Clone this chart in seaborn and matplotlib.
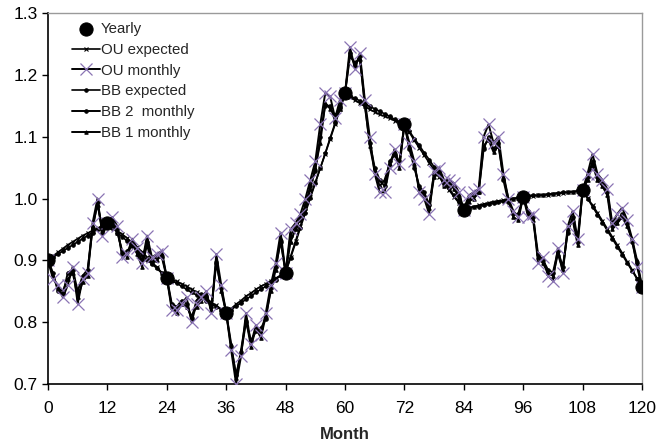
import numpy as np
import pandas as pd
import seaborn as sns
import matplotlib
matplotlib.use("Agg")
import matplotlib.pyplot as plt

# ------------------------------------------------------------
# data
# ------------------------------------------------------------
months = list(range(0, 121))
year_months = list(range(0, 121, 12))

yearly = [0.900, 0.960, 0.872, 0.815, 0.880, 1.170, 1.120, 0.982, 1.003, 1.013, 0.857]

ou_expected = [
    0.900, 0.907, 0.913, 0.919, 0.925, 0.930, 0.935, 0.940, 0.944, 0.948, 0.952, 0.956,
    0.960, 0.955, 0.948, 0.942, 0.936, 0.928, 0.921, 0.914, 0.905, 0.897, 0.889, 0.880,
    0.872, 0.869, 0.866, 0.862, 0.858, 0.853, 0.849, 0.844, 0.838, 0.832, 0.827, 0.821,
    0.815, 0.822, 0.829, 0.835, 0.842, 0.847, 0.853, 0.858, 0.862, 0.867, 0.871, 0.876,
    0.880, 0.906, 0.931, 0.956, 0.980, 1.003, 1.026, 1.049, 1.072, 1.096, 1.120, 1.145,
    1.170, 1.164, 1.159, 1.154, 1.149, 1.144, 1.140, 1.136, 1.133, 1.130, 1.126, 1.123,
    1.120, 1.107, 1.094, 1.082, 1.070, 1.058, 1.046, 1.035, 1.024, 1.014, 1.003, 0.993,
    0.982, 0.985, 0.987, 0.989, 0.991, 0.993, 0.995, 0.996, 0.997, 0.999, 1.000, 1.001,
    1.003, 1.004, 1.004, 1.005, 1.005, 1.006, 1.007, 1.008, 1.009, 1.010, 1.011, 1.012,
    1.013, 1.001, 0.989, 0.977, 0.964, 0.951, 0.938, 0.925, 0.912, 0.898, 0.885, 0.871,
    0.857]

ou_monthly = [
    0.900, 0.870, 0.860, 0.840, 0.860, 0.890, 0.830, 0.870, 0.880, 0.960, 1.000, 0.940,
    0.960, 0.970, 0.955, 0.905, 0.910, 0.935, 0.920, 0.895, 0.940, 0.905, 0.910, 0.915,
    0.872, 0.820, 0.820, 0.830, 0.840, 0.800, 0.830, 0.840, 0.850, 0.815, 0.910, 0.860,
    0.815, 0.755, 0.700, 0.745, 0.815, 0.765, 0.795, 0.780, 0.815, 0.860, 0.895, 0.945,
    0.880, 0.950, 0.960, 0.975, 1.000, 1.030, 1.060, 1.120, 1.170, 1.165, 1.130, 1.160,
    1.170, 1.245, 1.210, 1.235, 1.160, 1.100, 1.040, 1.010, 1.010, 1.050, 1.080, 1.055,
    1.120, 1.090, 1.060, 1.010, 1.000, 0.975, 1.045, 1.050, 1.030, 1.030, 1.025, 1.010,
    0.982, 1.005, 1.010, 1.015, 1.100, 1.120, 1.090, 1.100, 1.040, 1.000, 0.980, 0.970,
    1.003, 0.970, 0.975, 0.895, 0.905, 0.875, 0.867, 0.920, 0.880, 0.955, 0.980, 0.935,
    1.013, 1.040, 1.072, 1.040, 1.030, 1.015, 0.960, 0.975, 0.985, 0.965, 0.935, 0.890,
    0.857]

bb_expected = [
    0.900, 0.905, 0.910, 0.915, 0.920, 0.925, 0.930, 0.935, 0.940, 0.945, 0.950, 0.955,
    0.960, 0.953, 0.945, 0.938, 0.931, 0.923, 0.916, 0.909, 0.901, 0.894, 0.887, 0.879,
    0.872, 0.867, 0.863, 0.858, 0.853, 0.848, 0.844, 0.839, 0.834, 0.829, 0.825, 0.820,
    0.815, 0.820, 0.826, 0.831, 0.837, 0.842, 0.848, 0.853, 0.858, 0.864, 0.869, 0.875,
    0.880, 0.904, 0.928, 0.953, 0.977, 1.001, 1.025, 1.049, 1.073, 1.098, 1.122, 1.146,
    1.170, 1.166, 1.162, 1.158, 1.153, 1.149, 1.145, 1.141, 1.137, 1.133, 1.128, 1.124,
    1.120, 1.109, 1.097, 1.086, 1.074, 1.063, 1.051, 1.040, 1.028, 1.017, 1.005, 0.994,
    0.982, 0.984, 0.986, 0.987, 0.989, 0.991, 0.993, 0.994, 0.996, 0.998, 1.000, 1.001,
    1.003, 1.004, 1.005, 1.005, 1.006, 1.007, 1.008, 1.009, 1.010, 1.010, 1.011, 1.012,
    1.013, 1.000, 0.987, 0.974, 0.961, 0.948, 0.935, 0.922, 0.909, 0.896, 0.883, 0.870,
    0.857]

bb2_monthly = [
    0.900, 0.880, 0.850, 0.845, 0.880, 0.885, 0.850, 0.875, 0.885, 0.950, 0.995, 0.945,
    0.960, 0.965, 0.950, 0.910, 0.915, 0.925, 0.915, 0.900, 0.930, 0.900, 0.905, 0.905,
    0.872, 0.830, 0.825, 0.835, 0.830, 0.805, 0.835, 0.845, 0.840, 0.825, 0.895, 0.855,
    0.815, 0.760, 0.715, 0.750, 0.800, 0.770, 0.785, 0.790, 0.805, 0.855, 0.890, 0.930,
    0.880, 0.940, 0.955, 0.965, 0.990, 1.020, 1.045, 1.100, 1.150, 1.150, 1.125, 1.150,
    1.170, 1.235, 1.215, 1.230, 1.150, 1.090, 1.050, 1.030, 1.020, 1.060, 1.070, 1.060,
    1.120, 1.080, 1.050, 1.020, 1.010, 0.990, 1.040, 1.045, 1.025, 1.025, 1.020, 1.000,
    0.982, 1.000, 1.005, 1.010, 1.080, 1.100, 1.080, 1.090, 1.030, 0.995, 0.975, 0.975,
    1.003, 0.980, 0.970, 0.910, 0.900, 0.885, 0.880, 0.915, 0.890, 0.945, 0.970, 0.930,
    1.013, 1.035, 1.060, 1.035, 1.025, 1.010, 0.955, 0.965, 0.975, 0.960, 0.930, 0.895,
    0.857]

bb1_monthly = [
    0.900, 0.875, 0.855, 0.850, 0.870, 0.880, 0.840, 0.865, 0.875, 0.955, 0.990, 0.950,
    0.960, 0.960, 0.945, 0.915, 0.905, 0.930, 0.910, 0.890, 0.925, 0.895, 0.900, 0.910,
    0.872, 0.825, 0.815, 0.830, 0.825, 0.810, 0.825, 0.835, 0.845, 0.820, 0.900, 0.850,
    0.815, 0.765, 0.710, 0.755, 0.805, 0.760, 0.790, 0.775, 0.810, 0.850, 0.885, 0.935,
    0.880, 0.930, 0.950, 0.970, 0.985, 1.015, 1.050, 1.090, 1.155, 1.145, 1.135, 1.145,
    1.170, 1.230, 1.220, 1.225, 1.155, 1.085, 1.045, 1.020, 1.030, 1.055, 1.075, 1.050,
    1.120, 1.085, 1.055, 1.015, 1.005, 0.985, 1.035, 1.040, 1.020, 1.030, 1.015, 1.005,
    0.982, 0.995, 1.000, 1.010, 1.085, 1.095, 1.075, 1.085, 1.035, 1.000, 0.970, 0.965,
    1.003, 0.975, 0.965, 0.905, 0.895, 0.880, 0.875, 0.910, 0.885, 0.950, 0.965, 0.925,
    1.013, 1.030, 1.055, 1.030, 1.020, 1.005, 0.950, 0.960, 0.970, 0.955, 0.935, 0.900,
    0.857]

x_ticks = list(range(0, 121, 12))
y_ticks = [0.7, 0.8, 0.9, 1.0, 1.1, 1.2, 1.3]

# ------------------------------------------------------------
# style
# ------------------------------------------------------------
sns.set_style("ticks")
plt.rcParams["font.family"] = ["Liberation Sans", "DejaVu Sans"]

purple = "#8a74b4"

fig = plt.figure(figsize=(6.57, 4.46), dpi=100)
ax = fig.add_axes([48 / 657, 1 - 384 / 446, 594 / 657, 371 / 446])

# monthly paths
sns.lineplot(x=months, y=bb1_monthly, ax=ax, color="black", lw=1.4,
             marker="^", markersize=2.5, markeredgecolor="black",
             label="BB 1 monthly", zorder=3)
sns.lineplot(x=months, y=bb2_monthly, ax=ax, color="black", lw=1.4,
             marker="o", markersize=2.5, markeredgecolor="black",
             label="BB 2  monthly", zorder=3)
sns.lineplot(x=months, y=ou_monthly, ax=ax, color="black", lw=1.4,
             marker="x", markersize=8, markeredgecolor=purple, markeredgewidth=0.9,
             label="OU monthly", zorder=4)

# expected paths
sns.lineplot(x=months, y=bb_expected, ax=ax, color="black", lw=1.2,
             marker="o", markersize=2.5, markeredgecolor="black",
             label="BB expected", zorder=3)
sns.lineplot(x=months, y=ou_expected, ax=ax, color="black", lw=1.2,
             marker="x", markersize=3, markeredgecolor="black", markeredgewidth=0.8,
             label="OU expected", zorder=3)

# yearly observations
sns.scatterplot(x=year_months, y=yearly, ax=ax, color="black", s=90,
                edgecolor="black", label="Yearly", zorder=6)

ax.set_xlim(0, 120)
ax.set_ylim(0.7, 1.3)
ax.set_xticks(x_ticks)
ax.set_yticks(y_ticks)
ax.set_yticklabels([f"{v:.1f}" for v in y_ticks])
ax.tick_params(axis="both", labelsize=12.5, length=4, width=1, colors="black")
ax.tick_params(axis="x", pad=8)
ax.set_xlabel("Month", fontsize=12, fontweight="bold", labelpad=8)
ax.set_ylabel("")

for s in ["left", "bottom"]:
    ax.spines[s].set_color("black")
    ax.spines[s].set_linewidth(1.2)
for s in ["top", "right"]:
    ax.spines[s].set_visible(True)
    ax.spines[s].set_color("#9a9a9a")
    ax.spines[s].set_linewidth(1.0)

# legend in the reference order
handles, labels = ax.get_legend_handles_labels()
order = ["Yearly", "OU expected", "OU monthly", "BB expected", "BB 2  monthly", "BB 1 monthly"]
hmap = dict(zip(labels, handles))
ax.legend([hmap[k] for k in order], order, loc="upper left", frameon=False,
          fontsize=10.8, handlelength=1.9, handletextpad=0.05, labelspacing=0.45,
          borderaxespad=0.2, bbox_to_anchor=(0.025, 1.0))

fig.savefig("out.png", dpi=100)
